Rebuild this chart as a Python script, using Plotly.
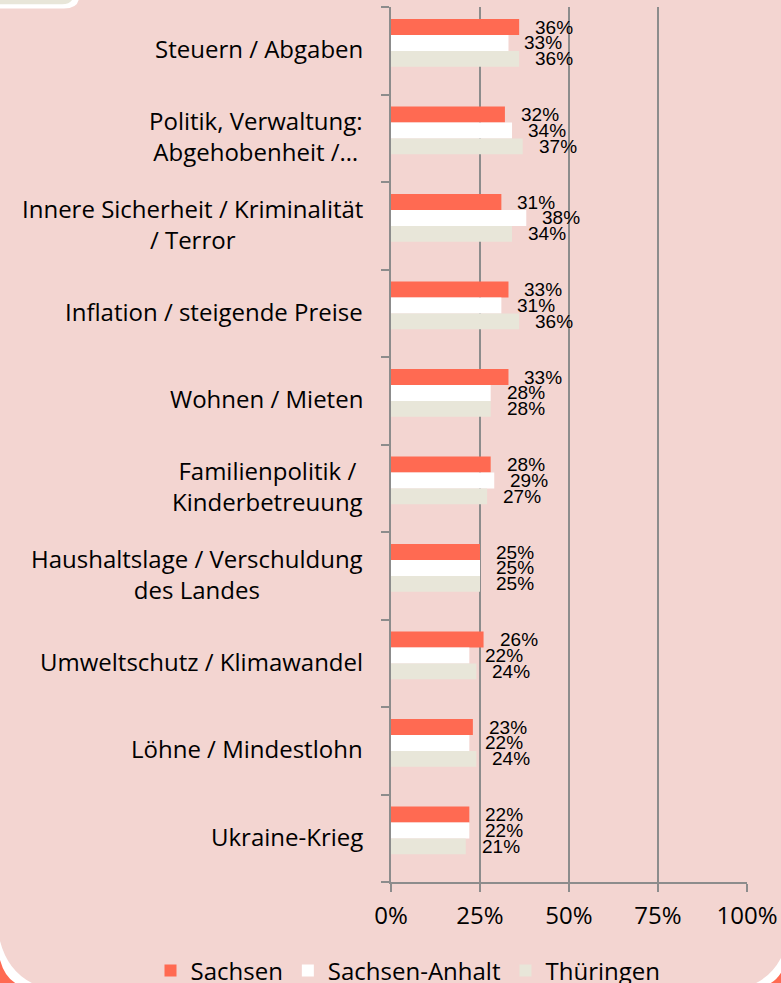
import plotly.graph_objects as go

categories = [
    "Steuern / Abgaben",
    "Politik, Verwaltung:<br>Abgehobenheit /…",
    "Innere Sicherheit / Kriminalität<br>/ Terror",
    "Inflation / steigende Preise",
    "Wohnen / Mieten",
    "Familienpolitik /<br>Kinderbetreuung",
    "Haushaltslage / Verschuldung<br>des Landes",
    "Umweltschutz / Klimawandel",
    "Löhne / Mindestlohn",
    "Ukraine-Krieg",
]
sachsen = [36, 32, 31, 33, 33, 28, 25, 26, 23, 22]
sachsen_anhalt = [33, 34, 38, 31, 28, 29, 25, 22, 22, 22]
thueringen = [36, 37, 34, 36, 28, 27, 25, 24, 24, 21]
series_names = ["Sachsen", "Sachsen-Anhalt", "Thüringen"]
x_ticks = [0, 25, 50, 75, 100]

W, H = 781, 983
BG = "#F3D5D1"
ORANGE = "#FF6A52"
BEIGE = "#E8E6D9"
GRID = "#8C8C8C"
LABEL_FONT = "Open Sans"

colors = [ORANGE, "#FFFFFF", BEIGE]
series = [sachsen, sachsen_anhalt, thueringen]
bar_w = 0.182
offsets = [-0.362, -0.18, 0.002]

idx = list(range(len(categories)))
fig = go.Figure()
annotations = []
for s, (name, vals, col, off) in enumerate(zip(series_names, series, colors, offsets)):
    fig.add_trace(go.Bar(
        name=name, x=vals, y=idx, orientation="h",
        marker=dict(color=col, line=dict(width=0)),
        width=bar_w, offset=off,
    ))
    for i, v in zip(idx, vals):
        annotations.append(dict(
            x=v, y=i + off + bar_w / 2, xref="x", yref="y",
            text=f"{v}%", showarrow=False, xanchor="left", yanchor="middle",
            xshift=14, font=dict(family="Liberation Sans", size=19, color="#000000"),
        ))

for i, c in zip(idx, categories):
    annotations.append(dict(
        x=0, y=i, xref="x", yref="y", text=c, showarrow=False,
        xanchor="right", yanchor="middle", align="center", xshift=-26, yshift=2,
        font=dict(family=LABEL_FONT, size=24, color="#000000"),
    ))


def P(x, y):
    return f"{x / W:.5f},{1 - y / H:.5f}"


shapes = [
    # top-left decorative box
    dict(type="path", xref="paper", yref="paper", layer="above", line=dict(width=0),
         fillcolor="#FFFFFF",
         path=f"M {P(0,-2)} L {P(79,-2)} Q {P(78,8.5)} {P(64,8.5)} L {P(0,8.5)} Z"),
    dict(type="path", xref="paper", yref="paper", layer="above", line=dict(width=0),
         fillcolor=BEIGE,
         path=f"M {P(0,-2)} L {P(73,-2)} Q {P(71,4.2)} {P(62,4.2)} L {P(0,4.2)} Z"),
    # bottom-left corner
    dict(type="path", xref="paper", yref="paper", layer="above", line=dict(width=0),
         fillcolor="#FFFFFF",
         path=f"M {P(0,941)} Q {P(8,972)} {P(34,984)} L {P(0,984)} Z"),
    dict(type="path", xref="paper", yref="paper", layer="above", line=dict(width=0),
         fillcolor=ORANGE,
         path=f"M {P(0,960)} Q {P(5,978)} {P(17,984)} L {P(0,984)} Z"),
    # bottom-right corner
    dict(type="path", xref="paper", yref="paper", layer="above", line=dict(width=0),
         fillcolor="#FFFFFF",
         path=f"M {P(782,956)} Q {P(772,976)} {P(754,984)} L {P(782,984)} Z"),
    dict(type="path", xref="paper", yref="paper", layer="above", line=dict(width=0),
         fillcolor=ORANGE,
         path=f"M {P(782,971)} Q {P(777,980)} {P(769,984)} L {P(782,984)} Z"),
]

fig.update_layout(
    width=W, height=H,
    margin=dict(l=0, r=0, t=0, b=0, pad=0, autoexpand=False),
    paper_bgcolor=BG, plot_bgcolor=BG,
    barmode="overlay",
    showlegend=True,
    legend=dict(orientation="h", x=408 / W, xanchor="center", y=1 - 971 / H, yanchor="middle",
                font=dict(family=LABEL_FONT, size=24, color="#000000"),
                bgcolor="rgba(0,0,0,0)", itemwidth=30, traceorder="normal"),
    xaxis=dict(domain=[391 / W, 747 / W], range=[0, 100], tickvals=x_ticks,
               ticktext=[f"{t}%" for t in x_ticks],
               showgrid=True, gridcolor=GRID, gridwidth=2, zeroline=False,
               showline=True, linecolor=GRID, linewidth=2,
               ticks="outside", ticklen=8, tickwidth=2, tickcolor=GRID,
               tickfont=dict(family=LABEL_FONT, size=24, color="#000000"),
               ticklabelstandoff=3, fixedrange=True),
    yaxis=dict(domain=[1 - 882 / H, 1 - 7 / H], range=[len(categories) - 0.5, -0.5],
               tickvals=[k - 0.5 for k in range(len(categories) + 1)],
               showticklabels=False, showgrid=False, zeroline=False,
               showline=True, linecolor=GRID, linewidth=2,
               ticks="outside", ticklen=8, tickwidth=2, tickcolor=GRID, fixedrange=True),
    annotations=annotations,
    shapes=shapes,
)

fig.write_html(
    "out.html",
    config={"displayModeBar": False},
    post_script="document.body.style.margin='0';document.body.style.overflow='hidden';",
)
